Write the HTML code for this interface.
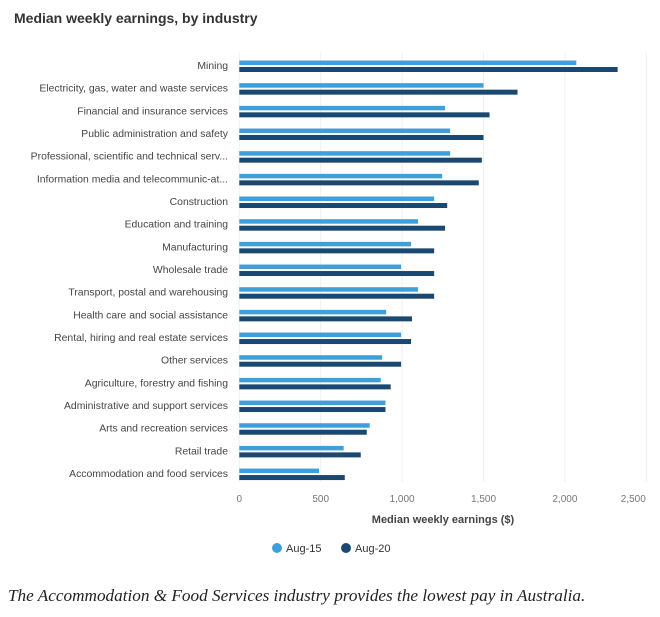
<!DOCTYPE html>
<html><head><meta charset="utf-8"><style>
body{margin:0;background:#fff;width:660px;height:612px;overflow:hidden;font-family:"Liberation Sans",sans-serif}
</style></head><body>
<svg width="660" height="612" id="chart" xmlns="http://www.w3.org/2000/svg">
<text x="14" y="23" font-size="14" font-weight="bold" fill="#333">Median weekly earnings, by industry</text>
<g id="grid"></g>
<g id="bars"></g>
<g id="cats"></g>
<g id="ticks"></g>
<text x="443" y="523" text-anchor="middle" font-size="11" font-weight="bold" fill="#444">Median weekly earnings ($)</text>
<g><circle cx="277" cy="548" r="5" fill="#3f9fd8"/><text x="286" y="552" font-size="11" fill="#333">Aug-15</text></g>
<g><circle cx="346" cy="548" r="5" fill="#1a4870"/><text x="355" y="552" font-size="11" fill="#333">Aug-20</text></g>
<text x="8" y="601" font-family="Liberation Serif,serif" font-style="italic" font-size="17.2" fill="#222">The Accommodation &amp; Food Services industry provides the lowest pay in Australia.</text>
</svg>
<script>
const categories=["Mining","Electricity, gas, water and waste services","Financial and insurance services","Public administration and safety","Professional, scientific and technical serv...","Information media and telecommunic-at...","Construction","Education and training","Manufacturing","Wholesale trade","Transport, postal and warehousing","Health care and social assistance","Rental, hiring and real estate services","Other services","Agriculture, forestry and fishing","Administrative and support services","Arts and recreation services","Retail trade","Accommodation and food services"];
const aug15=[2070,1500,1264,1295,1295,1246,1197,1098,1055,994,1098,902,994,877,869,898,801,641,490];
const aug20=[2324,1709,1537,1500,1490,1471,1277,1264,1197,1197,1197,1061,1055,994,930,898,783,746,648];
const tickValues=[0,500,1000,1500,2000,2500];
const tickLabels=["0","500","1,000","1,500","2,000","2,500"];
const NS="http://www.w3.org/2000/svg";
const x=v=>239.3+v*81.4/500;
const y=i=>60.5+i*22.67;
function mk(tag,attrs,parent){const e=document.createElementNS(NS,tag);for(const k in attrs)e.setAttribute(k,attrs[k]);document.getElementById(parent).appendChild(e);return e;}
tickValues.forEach((t,i)=>{
  const g=mk("line",{x1:x(t),x2:x(t),y1:52,y2:482,stroke:"#f0f0f0","stroke-width":1},"grid");
  
  
  let lx=x(t); if(i===tickValues.length-1) lx-=13;
  const tx=mk("text",{x:lx,y:502,"text-anchor":"middle","font-size":"10",fill:"#777"},"ticks");
  tx.textContent=tickLabels[i];
  
  
});
categories.forEach((c,i)=>{
  const t=mk("text",{x:228,y:y(i)+8.5,"text-anchor":"end","font-size":"10.4",fill:"#444"},"cats");
  t.textContent=c;
  
  
  const b1=mk("rect",{x:x(0),y:y(i),width:x(aug15[i])-x(0),height:4.5,fill:"#3f9fd8"},"bars");
  
  
  const b2=mk("rect",{x:x(0),y:y(i)+6.5,width:x(aug20[i])-x(0),height:5,fill:"#1a4870"},"bars");
  
  
});
</script>
</body></html>
